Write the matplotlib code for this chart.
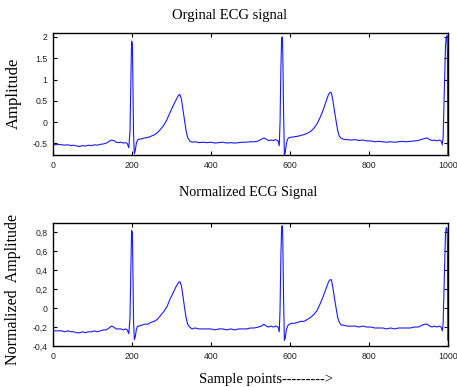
import matplotlib
matplotlib.use("Agg")
import matplotlib.pyplot as plt

# Sample positions and amplitudes
samples = [
    0, 8, 15, 22, 30, 38, 45, 52, 60, 68, 75, 82, 90, 98, 105, 112, 120, 128,
    135, 142, 148, 154, 160, 166, 172, 178, 184, 188, 192, 195, 197, 199, 201,
    202, 204, 206, 208, 211, 214, 218, 225, 232, 240, 248, 256, 264, 272, 280,
    288, 296, 304, 312, 318, 321, 325, 329, 333, 337, 341, 346, 352, 360, 370,
    380, 390, 400, 410, 420, 430, 440, 450, 460, 470, 480, 490, 500, 510, 520,
    528, 534, 540, 546, 552, 558, 564, 570, 573, 575, 577, 579, 581, 582, 584,
    586, 588, 591, 594, 598, 605, 612, 620, 628, 636, 644, 652, 660, 668, 676,
    684, 692, 698, 702, 705, 709, 713, 717, 721, 725, 730, 736, 745, 755, 765,
    775, 785, 795, 805, 815, 825, 835, 845, 855, 865, 875, 885, 895, 905, 915,
    925, 935, 942, 948, 954, 960, 966, 972, 978, 983, 986, 988, 990, 992, 994,
    996, 998, 999, 1000,
]

ecg_raw = [
    -0.52, -0.53, -0.52, -0.53, -0.54, -0.53, -0.55, -0.54, -0.56, -0.57,
    -0.55, -0.56, -0.54, -0.55, -0.53, -0.54, -0.52, -0.51, -0.49, -0.45,
    -0.42, -0.43, -0.47, -0.48, -0.47, -0.49, -0.48, -0.50, -0.60, -0.20,
    0.90, 1.90, 1.85, 1.20, -0.30, -0.74, -0.68, -0.50, -0.42, -0.40,
    -0.39, -0.37, -0.36, -0.33, -0.30, -0.25, -0.17, -0.08, 0.05, 0.22,
    0.38, 0.53, 0.63, 0.65, 0.55, 0.30, 0.05, -0.20, -0.36, -0.44,
    -0.47, -0.46, -0.48, -0.47, -0.48, -0.47, -0.49, -0.48, -0.47, -0.49,
    -0.48, -0.49, -0.48, -0.47, -0.47, -0.46, -0.46, -0.44, -0.40, -0.37,
    -0.40, -0.43, -0.42, -0.43, -0.41, -0.44, -0.55, 0.00, 1.20, 1.98,
    2.00, 1.60, 0.20, -0.78, -0.72, -0.50, -0.40, -0.36, -0.35, -0.34,
    -0.33, -0.31, -0.29, -0.26, -0.22, -0.15, -0.05, 0.10, 0.28, 0.50,
    0.66, 0.70, 0.69, 0.50, 0.25, 0.02, -0.20, -0.33, -0.38, -0.40,
    -0.41, -0.42, -0.41, -0.43, -0.42, -0.44, -0.44, -0.46, -0.45, -0.46,
    -0.47, -0.46, -0.47, -0.46, -0.45, -0.46, -0.45, -0.44, -0.43, -0.40,
    -0.38, -0.37, -0.41, -0.43, -0.42, -0.44, -0.42, -0.44, -0.53, -0.35,
    0.40, 1.20, 1.80, 2.00, 2.03, 1.50, -0.76,
]

ecg_norm = [
    -0.24, -0.24, -0.24, -0.24, -0.25, -0.24, -0.25, -0.25, -0.26, -0.26,
    -0.25, -0.26, -0.25, -0.25, -0.24, -0.25, -0.24, -0.23, -0.23, -0.21,
    -0.19, -0.20, -0.22, -0.22, -0.22, -0.23, -0.22, -0.23, -0.27, -0.10,
    0.39, 0.82, 0.80, 0.52, -0.14, -0.33, -0.31, -0.23, -0.19, -0.19,
    -0.18, -0.17, -0.17, -0.15, -0.14, -0.12, -0.08, -0.04, 0.01, 0.09,
    0.16, 0.23, 0.27, 0.28, 0.24, 0.13, 0.01, -0.10, -0.17, -0.20,
    -0.22, -0.21, -0.22, -0.22, -0.22, -0.22, -0.23, -0.22, -0.22, -0.23,
    -0.22, -0.23, -0.22, -0.22, -0.22, -0.21, -0.21, -0.20, -0.19, -0.17,
    -0.19, -0.20, -0.19, -0.20, -0.19, -0.20, -0.25, -0.01, 0.52, 0.86,
    0.87, 0.70, 0.08, -0.34, -0.32, -0.23, -0.19, -0.17, -0.16, -0.16,
    -0.15, -0.14, -0.14, -0.12, -0.10, -0.07, -0.03, 0.04, 0.12, 0.21,
    0.28, 0.30, 0.30, 0.21, 0.10, 0.00, -0.10, -0.15, -0.18, -0.18,
    -0.19, -0.19, -0.19, -0.20, -0.19, -0.20, -0.20, -0.21, -0.21, -0.21,
    -0.22, -0.21, -0.22, -0.21, -0.21, -0.21, -0.21, -0.20, -0.20, -0.18,
    -0.17, -0.17, -0.19, -0.20, -0.19, -0.20, -0.19, -0.20, -0.24, -0.16,
    0.17, 0.52, 0.79, 0.85, 0.84, 0.65, -0.34,
]

x_ticks = [0, 200, 400, 600, 800, 1000]
x_tick_labels = ["0", "200", "400", "600", "800", "1000"]
raw_ticks = [-0.5, 0, 0.5, 1, 1.5, 2]
raw_tick_labels = ["-0.5", "0", "0.5", "1", "1.5", "2"]
norm_ticks = [-0.4, -0.2, 0, 0.2, 0.4, 0.6, 0.8]
norm_tick_labels = ["-0,4", "-0,2", "0", "0,2", "0,4", "0,6", "0,8"]

serif = "Liberation Serif"
tick_font = {"family": "Liberation Sans", "size": 6.3}

fig = plt.figure(figsize=(4.57, 3.87), dpi=100)
ax1 = fig.add_axes([0.116, 0.5995, 0.864, 0.315])
ax2 = fig.add_axes([0.116, 0.106, 0.864, 0.318])


# Shared axis styling, MATLAB look
def style_axis(ax, yticks, ylabels):
    ax.set_xlim(0, 1000)
    ax.set_xticks(x_ticks)
    ax.set_xticklabels(x_tick_labels, fontdict=tick_font, color="#222222")
    ax.set_yticks(yticks)
    ax.set_yticklabels(ylabels, fontdict=tick_font, color="#222222")
    ax.tick_params(direction="in", length=3, width=0.8, top=True, right=True,
                   pad=4)
    for spine in ax.spines.values():
        spine.set_linewidth(1.0)


ax1.plot(samples, ecg_raw, color="#1a1aff", linewidth=0.8)
ax1.set_ylim(-0.77, 2.09)
style_axis(ax1, raw_ticks, raw_tick_labels)
ax1.set_ylabel("Amplitude", family=serif, fontsize=12)
ax1.yaxis.set_label_coords(-0.078, 0.51)
fig.text(0.503, 0.961, "Orginal ECG signal", family=serif, fontsize=10.5,
         ha="center", va="center")

ax2.plot(samples, ecg_norm, color="#1a1aff", linewidth=0.8)
ax2.set_ylim(-0.4, 0.9)
style_axis(ax2, norm_ticks, norm_tick_labels)
ax2.set_ylabel("Normalized  Amplitude", family=serif, fontsize=11.5)
ax2.yaxis.set_label_coords(-0.081, 0.46)
fig.text(0.543, 0.502, "Normalized ECG Signal", family=serif, fontsize=10.2,
         ha="center", va="center")
fig.text(0.582, 0.02, "Sample points--------->", family=serif, fontsize=10.5,
         ha="center", va="center")

fig.savefig("out.png", dpi=100)
plt.close(fig)
